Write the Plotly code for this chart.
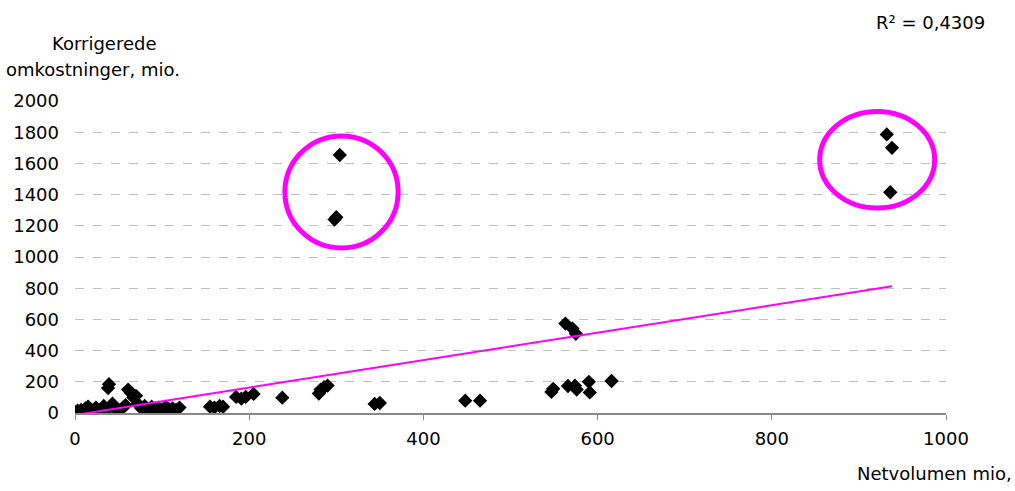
import numpy as np
import plotly.graph_objects as go

# Netvolumen (mio.) and korrigerede omkostninger (mio.) per selskab
netvolumen = [
    1, 3, 5, 7, 10, 12, 15, 18, 20, 24, 28, 33, 36, 38, 39, 43, 46, 50, 55, 58,
    61, 64, 67, 70, 72, 76, 80, 85, 88, 92, 96, 100, 104, 108, 112, 116, 120,
    155, 160, 166, 170,
    185, 191, 196, 205,
    238,
    280, 282, 286, 290,
    298, 300, 304,
    344, 350,
    448, 465,
    547, 549, 563, 566, 571, 574, 575, 576, 590, 591, 616,
    932, 938, 936,
]
omkostninger = [
    5, 15, 2, 20, 8, 30, 40, 25, 10, 35, 20, 45, 15, 160, 185, 60, 30, 20, 35, 50,
    150, 130, 100, 110, 60, 30, 45, 20, 40, 30, 35, 20, 40, 25, 30, 20, 35,
    40, 35, 45, 40,
    103, 92, 103, 122,
    98,
    125, 150, 165, 176,
    1240, 1255, 1654,
    58, 64,
    79, 79,
    135, 155, 573, 173, 543, 175, 508, 150, 200, 132, 205,
    1786, 1700, 1415,
]

# linear trend line: y = trend_intercept + trend_slope * x
trend_slope = 0.880
trend_intercept = -13.0
r2_label = "R² = 0,4309"

x = np.array(netvolumen, dtype=float)
y = np.array(omkostninger, dtype=float)

# the trend spans the data range; the part below zero is clipped by the axis
trend_x = np.array([0.0, x.max()])
trend_y = trend_intercept + trend_slope * trend_x

FONT = "DejaVu Sans"
MAGENTA = "#FF00FF"

fig = go.Figure()
fig.add_trace(go.Scatter(
    x=x, y=y, mode="markers",
    marker=dict(symbol="diamond", size=11, color="black", line=dict(width=0)),
    showlegend=False, hoverinfo="x+y",
))
fig.add_trace(go.Scatter(
    x=trend_x, y=trend_y, mode="lines",
    line=dict(color=MAGENTA, width=2),
    showlegend=False, hoverinfo="skip",
))

# highlight rings around the outlying companies
for x0, x1, y0, y1 in [(241, 371, 1058, 1776), (855, 987, 1314, 1933)]:
    fig.add_shape(type="circle", xref="x", yref="y",
                  x0=x0, x1=x1, y0=y0, y1=y1,
                  line=dict(color=MAGENTA, width=5))

# free text, positioned in page pixels (centre x, centre y)
texts = [
    ("Korrigerede", 104, 44),
    ("omkostninger, mio.", 93, 70),
    (r2_label, 930, 22),
    ("Netvolumen mio,", 934, 473),
]
L, R, T, B, W, H = 75, 69, 101, 78, 1015, 491
annotations = [
    dict(text=t, showarrow=False, xref="paper", yref="paper",
         x=(px - L) / (W - L - R), y=1 - (py - T) / (H - T - B),
         xanchor="center", yanchor="middle")
    for t, px, py in texts
]

fig.update_layout(
    width=W, height=H,
    margin=dict(l=L, r=R, t=T, b=B),
    paper_bgcolor="white", plot_bgcolor="white",
    font=dict(family=FONT, size=18, color="#000000"),
    xaxis=dict(
        range=[0, 1000], tickvals=[0, 200, 400, 600, 800, 1000],
        showgrid=False, zeroline=False,
        showline=True, linecolor="#888888", linewidth=2,
        ticks="outside", ticklen=5, tickcolor="#888888",
        ticklabelstandoff=3,
    ),
    yaxis=dict(
        range=[0, 2000], tickvals=list(range(0, 2001, 200)),
        showgrid=True, gridcolor="#C0C0C0", griddash="dash", gridwidth=1,
        zeroline=False, showline=False, ticks="",
        ticklabelstandoff=15,
    ),
    annotations=annotations,
)

fig.write_html("out.html")
